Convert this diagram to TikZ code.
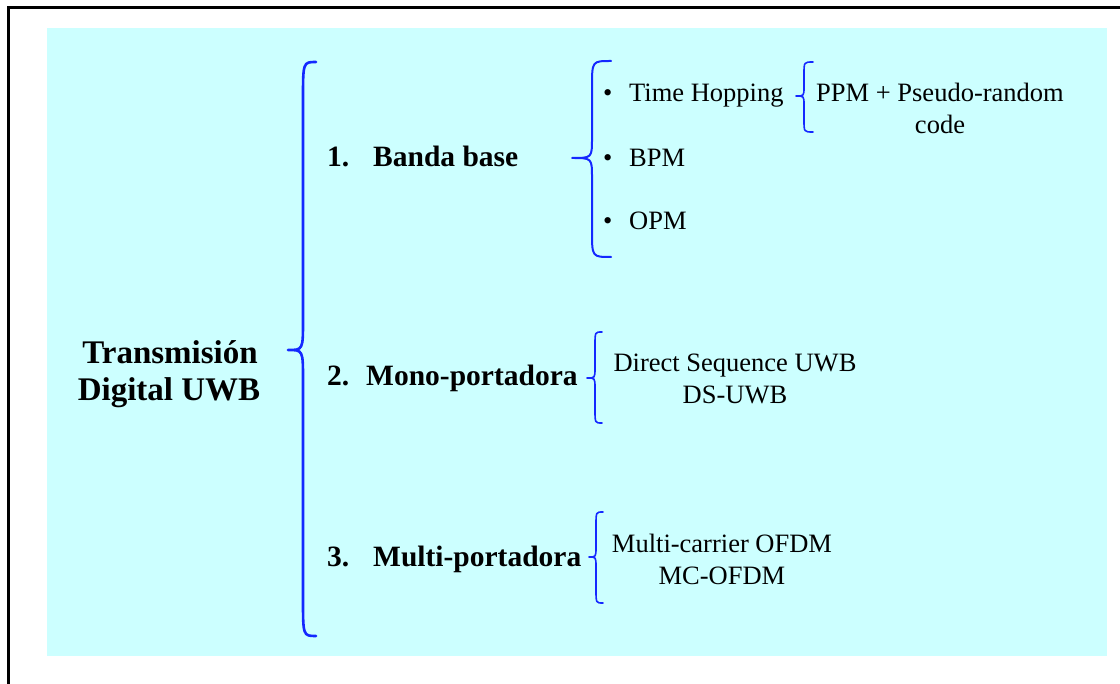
\documentclass[tikz,border=0pt]{standalone}
\usepackage{fontspec}
\setmainfont{Liberation Serif}
\definecolor{bgcyan}{HTML}{CCFFFF}
\definecolor{braceblue}{RGB}{20,40,255}
\newcommand{\curlyb}[9]{% #1 style, #2 xe, #3 xv, #4 xt, #5 ytop, #6 ytip, #7 ybot, #8 end h, #9 tip h
  \draw[#1] (#2,#5) .. controls (#3,#5) .. (#3,#5+#8) -- (#3,#6-#9)
    .. controls (#3,#6) .. (#4,#6) .. controls (#3,#6) .. (#3,#6+#9)
    -- (#3,#7-#8) .. controls (#3,#7) .. (#2,#7);}
\tikzset{
  bigbrace/.style={draw=braceblue, line width=2.6pt, line cap=round, line join=round},
  midbrace/.style={draw=braceblue, line width=2pt, line cap=round, line join=round},
  smallbrace/.style={draw=braceblue, line width=1.6pt, line cap=round, line join=round},
  titletext/.style={inner sep=0pt, anchor=base, font=\fontsize{33}{38}\selectfont\bfseries},
  itemtext/.style={inner sep=0pt, anchor=base west, font=\fontsize{29.5}{34}\selectfont\bfseries},
  subtext/.style={inner sep=0pt, anchor=base west, font=\fontsize{26.5}{32}\selectfont},
  subcenter/.style={inner sep=0pt, anchor=base, font=\fontsize{26.5}{32}\selectfont},
}
\begin{document}
\begin{tikzpicture}[x=1pt,y=-1pt]
\useasboundingbox (0,0) rectangle (1120,684);
\fill[white] (0,0) rectangle (1120,684);
% frame
\draw[line width=2.6pt] (8.5,684) -- (8.5,7.5) -- (1120,7.5);
% background
\fill[bgcyan] (47,28) rectangle (1107,656);
% title
\node[titletext] (title1) at (170,364) {Transmisión};
\node[titletext] (title2) at (169,401) {Digital UWB};
% big brace
\curlyb{bigbrace}{316}{303}{288}{62}{350}{636}{38}{30}
% items
\node[itemtext] (item1) at (327,167) {\makebox[46pt][l]{1.}Banda base};
\node[itemtext] (item2) at (327,386) {\makebox[39pt][l]{2.}Mono-portadora};
\node[itemtext] (item3) at (327,566) {\makebox[46pt][l]{3.}Multi-portadora};
% brace 1
\curlyb{midbrace}{611}{592}{572}{61}{158}{257}{26}{20}
\node[subtext] (th) at (603,102) {\makebox[26pt][l]{•}Time Hopping};
\node[subtext] (bpm) at (603,167) {\makebox[26pt][l]{•}BPM};
\node[subtext] (opm) at (603,230) {\makebox[26pt][l]{•}OPM};
% time hopping brace
\curlyb{smallbrace}{813}{804}{796}{62}{96}{132}{12}{9}
\node[subcenter] (ppm1) at (940,102) {PPM + Pseudo-random};
\node[subcenter] (ppm2) at (940,134) {code};
% brace 2
\curlyb{smallbrace}{602}{595}{587}{332}{378}{423}{13}{10}
\node[subcenter] (ds1) at (735,372) {Direct Sequence UWB};
\node[subcenter] (ds2) at (735,404) {DS-UWB};
% brace 3
\curlyb{smallbrace}{603}{596}{589}{512}{557}{603}{13}{10}
\node[subcenter] (mc1) at (722,552) {Multi-carrier OFDM};
\node[subcenter] (mc2) at (722,584) {MC-OFDM};
\end{tikzpicture}
\end{document}
